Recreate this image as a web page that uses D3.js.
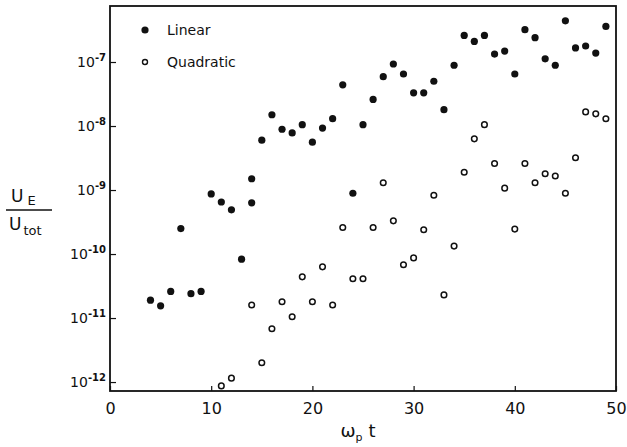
<!DOCTYPE html>
<html>
<head>
<meta charset="utf-8">
<script src="https://cdn.jsdelivr.net/npm/d3@7"></script>
<style>
  body { margin: 0; background: #fff; }
  text { font-family: "DejaVu Sans", sans-serif; fill: #111; }
</style>
</head>
<body>
<div id="chart"></div>
<script>
  // values (U_E / U_tot vs omega_p t)
  const linearT = [4, 5, 6, 7, 8, 9, 10, 11, 12, 13, 14, 14, 15, 16, 17, 18, 19, 20, 21, 22, 23, 24,
    25, 26, 27, 28, 29, 30, 31, 32, 33, 34, 35, 36, 37, 38, 39, 40, 41, 42, 43, 44, 45, 46, 47, 48, 49];
  const linearU = [1.9e-11, 1.55e-11, 2.6e-11, 2.5e-10, 2.4e-11, 2.6e-11, 8.7e-10, 6.5e-10, 4.9e-10, 8.3e-11,
    1.5e-9, 6.3e-10, 6.0e-9, 1.5e-8, 8.9e-9, 7.8e-9, 1.05e-8, 5.6e-9, 9.3e-9, 1.3e-8, 4.4e-8, 8.9e-10,
    1.05e-8, 2.6e-8, 5.9e-8, 9.3e-8, 6.5e-8, 3.3e-8, 3.3e-8, 5.0e-8, 1.8e-8, 8.9e-8,
    2.6e-7, 2.1e-7, 2.6e-7, 1.33e-7, 1.48e-7, 6.5e-8, 3.2e-7, 2.4e-7, 1.12e-7, 8.9e-8,
    4.4e-7, 1.66e-7, 1.78e-7, 1.38e-7, 3.6e-7];

  const quadT = [11, 12, 14, 15, 16, 17, 18, 19, 20, 21, 22, 23, 24, 25, 26, 27, 28, 29, 30, 31,
    32, 33, 34, 35, 36, 37, 38, 39, 40, 41, 42, 43, 44, 45, 46, 47, 48, 49];
  const quadU = [8.7e-13, 1.15e-12, 1.6e-11, 2.0e-12, 6.8e-12, 1.8e-11, 1.05e-11, 4.4e-11, 1.8e-11,
    6.3e-11, 1.6e-11, 2.6e-10, 4.1e-11, 4.1e-11, 2.6e-10, 1.3e-9, 3.3e-10, 6.8e-11, 8.7e-11, 2.4e-10,
    8.3e-10, 2.3e-11, 1.33e-10, 1.9e-9, 6.3e-9, 1.05e-8, 2.6e-9, 1.07e-9, 2.45e-10, 2.6e-9,
    1.3e-9, 1.8e-9, 1.66e-9, 8.9e-10, 3.2e-9, 1.66e-8, 1.55e-8, 1.3e-8];

  const xTicks = [0, 10, 20, 30, 40, 50];
  const yExponents = [-7, -8, -9, -10, -11, -12];

  const margin = {top: 6, right: 11, bottom: 56, left: 110},
    W = 627, H = 447,
    width = W - margin.left - margin.right,
    height = H - margin.top - margin.bottom;

  const svg = d3.select("#chart").append("svg")
      .attr("width", W)
      .attr("height", H);

  const g = svg.append("g")
      .attr("transform", "translate(" + margin.left + "," + margin.top + ")");

  const x = d3.scaleLinear().domain([0, 50]).range([0, width]);
  const y = d3.scaleLog().domain([Math.pow(10, -12.14), Math.pow(10, -6.125)]).range([height, 0]);

  // frame
  g.append("rect")
      .attr("width", width)
      .attr("height", height)
      .attr("fill", "none")
      .attr("stroke", "#111")
      .attr("stroke-width", 1.8);

  // x axis: inward ticks, labels below
  const xAxis = g.append("g")
      .attr("transform", "translate(0," + height + ")")
      .call(d3.axisBottom(x).tickValues(xTicks).tickSize(-5).tickPadding(12).tickFormat(d3.format("d")));
  xAxis.select(".domain").remove();
  xAxis.selectAll("line").attr("stroke", "#111").attr("stroke-width", 1.2);
  xAxis.selectAll("text").attr("font-size", 16).attr("fill", "#111").style("font-family", "DejaVu Sans");

  // y axis: inward ticks, labels as 10^n
  const yAxis = g.append("g")
      .call(d3.axisLeft(y).tickValues(yExponents.map(e => Math.pow(10, e))).tickSize(-6).tickFormat(""));
  yAxis.select(".domain").remove();
  yAxis.selectAll("line").attr("stroke", "#111").attr("stroke-width", 1.2);

  const yLab = g.selectAll(".ylab")
      .data(yExponents)
      .enter().append("text")
        .attr("class", "ylab")
        .attr("x", -4)
        .attr("y", d => y(Math.pow(10, d)) + 5)
        .attr("text-anchor", "end")
        .attr("font-size", 14);
  yLab.append("tspan").text("10");
  yLab.append("tspan")
      .attr("dy", -6)
      .attr("font-size", 10)
      .attr("font-weight", "bold")
      .text(d => String(d));

  // linear: filled dots
  g.selectAll(".lin")
      .data(linearT.map((t, i) => [t, linearU[i]]))
      .enter().append("circle")
        .attr("class", "lin")
        .attr("cx", d => x(d[0]))
        .attr("cy", d => y(d[1]))
        .attr("r", 3.6)
        .attr("fill", "#111");

  // quadratic: open circles
  g.selectAll(".quad")
      .data(quadT.map((t, i) => [t, quadU[i]]))
      .enter().append("circle")
        .attr("class", "quad")
        .attr("cx", d => x(d[0]))
        .attr("cy", d => y(d[1]))
        .attr("r", 2.8)
        .attr("fill", "#fff")
        .attr("stroke", "#111")
        .attr("stroke-width", 1.5);

  // legend
  const legend = g.append("g").attr("transform", "translate(35,24)");
  legend.append("circle").attr("cx", 0).attr("cy", 0).attr("r", 3.6).attr("fill", "#111");
  legend.append("text").attr("x", 22).attr("y", 5).attr("font-size", 14).text("Linear");
  legend.append("circle").attr("cx", 0).attr("cy", 32).attr("r", 2.5)
      .attr("fill", "#fff").attr("stroke", "#111").attr("stroke-width", 1.4);
  legend.append("text").attr("x", 22).attr("y", 37).attr("font-size", 14).text("Quadratic");

  // x axis title: omega_p t
  const xt = svg.append("text")
      .attr("x", margin.left + width / 2 - 5)
      .attr("y", 437)
      .attr("text-anchor", "middle")
      .attr("font-size", 18);
  xt.append("tspan").text("ω");
  xt.append("tspan").attr("dy", 4).attr("font-size", 11).text("p");
  xt.append("tspan").attr("dy", -4).attr("dx", 6).text("t");

  // y axis title: U_E / U_tot
  const yt = svg.append("g").attr("transform", "translate(30,210)");
  const num = yt.append("text").attr("x", -19).attr("y", -8).attr("font-size", 17);
  num.append("tspan").text("U");
  num.append("tspan").attr("dx", 4).attr("dy", 3).attr("font-size", 13).text("E");
  yt.append("line").attr("x1", -24).attr("x2", 22).attr("y1", 0).attr("y2", 0)
      .attr("stroke", "#111").attr("stroke-width", 1.3);
  const den = yt.append("text").attr("x", -21).attr("y", 20).attr("font-size", 17);
  den.append("tspan").text("U");
  den.append("tspan").attr("dx", 2).attr("dy", 5).attr("font-size", 13).text("tot");
</script>
</body>
</html>
